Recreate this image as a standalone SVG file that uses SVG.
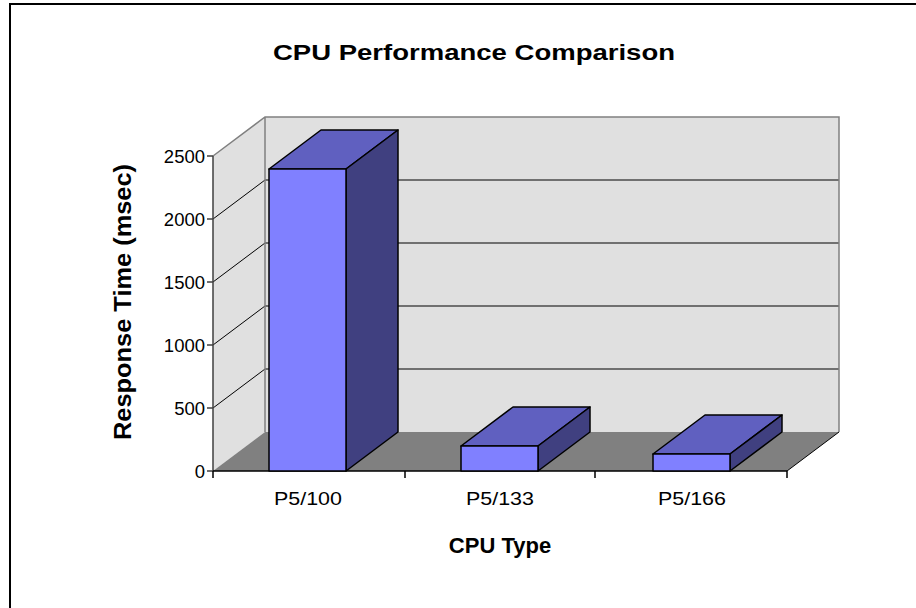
<svg xmlns="http://www.w3.org/2000/svg" width="916" height="608" viewBox="0 0 916 608">
  <style>
    .wall { fill: #e0e0e0; }
    .edge { fill: none; stroke: #808080; stroke-width: 1.5; }
    .grid { fill: none; stroke: #000; stroke-width: 1; }
    .axis { fill: none; stroke: #404040; stroke-width: 1.5; }
    .front { fill: #8080ff; stroke: #000; stroke-width: 1.5; stroke-linejoin: round; }
    .top { fill: #6060c0; stroke: #000; stroke-width: 1.5; stroke-linejoin: round; }
    .side { fill: #404080; stroke: #000; stroke-width: 1.5; stroke-linejoin: round; }
    .tick { font-family: "Liberation Sans", Arial, sans-serif; font-size: 18.5px; fill: #000; }
    .cat { font-family: "Liberation Sans", Arial, sans-serif; font-size: 19px; fill: #000; text-anchor: middle; }
    .bold { font-family: "Liberation Sans", Arial, sans-serif; font-weight: bold; fill: #000; text-anchor: middle; }
  </style>

  <!-- chart frame -->
  <path d="M10,612 V4 H920" fill="none" stroke="#000" stroke-width="2"/>

  <text id="title" class="bold" x="474" y="60" font-size="22.5" textLength="402" lengthAdjust="spacingAndGlyphs">CPU Performance Comparison</text>

  <!-- walls and floor -->
  <g id="walls">
    <polygon class="wall" points="213,156 265,117 265,432 213,471"/>
    <rect class="wall" x="265" y="117" width="574" height="315"/>
    <!-- gridlines on back wall -->
    <g class="grid">
      <line x1="265" y1="180" x2="839" y2="180"/>
      <line x1="265" y1="243" x2="839" y2="243"/>
      <line x1="265" y1="306" x2="839" y2="306"/>
      <line x1="265" y1="369" x2="839" y2="369"/>
      <line x1="213" y1="219" x2="265" y2="180"/>
      <line x1="213" y1="282" x2="265" y2="243"/>
      <line x1="213" y1="345" x2="265" y2="306"/>
      <line x1="213" y1="408" x2="265" y2="369"/>
    </g>
    <path class="edge" d="M213,156 L265,117 H839 V432 M265,117 V432"/>
    <polygon id="floor" points="213,471 265,432 839,432 787,471" fill="#808080"/>
    <path d="M787,471 L839,432" fill="none" stroke="#000" stroke-width="1"/>
  </g>

  <!-- axes -->
  <g id="axes">
    <path class="axis" d="M213,156 V471 M207,156 H213 M207,219 H213 M207,282 H213 M207,345 H213 M207,408 H213 M207,471 H213"/>
    <path fill="none" stroke="#000" stroke-width="1.5" d="M213,471 H787 M213,471 V478 M405,471 V478 M595,471 V478 M787,471 V478"/>
    <g class="tick" text-anchor="end">
      <text x="205" y="163">2500</text>
      <text x="205" y="226">2000</text>
      <text x="205" y="289">1500</text>
      <text x="205" y="352">1000</text>
      <text x="205" y="415">500</text>
      <text x="205" y="478">0</text>
    </g>
    <g class="cat">
      <text x="308" y="505" textLength="68" lengthAdjust="spacingAndGlyphs">P5/100</text>
      <text x="500" y="505" textLength="68" lengthAdjust="spacingAndGlyphs">P5/133</text>
      <text x="692" y="505" textLength="68" lengthAdjust="spacingAndGlyphs">P5/166</text>
    </g>
    <text id="x-title" class="bold" x="500" y="553" font-size="22">CPU Type</text>
    <text id="y-title" class="bold" font-size="24.5" transform="translate(131,302) rotate(-90)" textLength="276" lengthAdjust="spacingAndGlyphs">Response Time (msec)</text>
  </g>

  <!-- data bars -->
  <g id="bar-p5-100">
    <polygon class="top" points="269,169 346,169 398,130 321,130"/>
    <polygon class="side" points="346,169 398,130 398,432 346,471"/>
    <rect class="front" x="269" y="169" width="77" height="302"/>
  </g>
  <g id="bar-p5-133">
    <polygon class="top" points="461,446 538,446 590,407 513,407"/>
    <polygon class="side" points="538,446 590,407 590,432 538,471"/>
    <rect class="front" x="461" y="446" width="77" height="25"/>
  </g>
  <g id="bar-p5-166">
    <polygon class="top" points="653,454 730,454 782,415 705,415"/>
    <polygon class="side" points="730,454 782,415 782,432 730,471"/>
    <rect class="front" x="653" y="454" width="77" height="17"/>
  </g>
</svg>
